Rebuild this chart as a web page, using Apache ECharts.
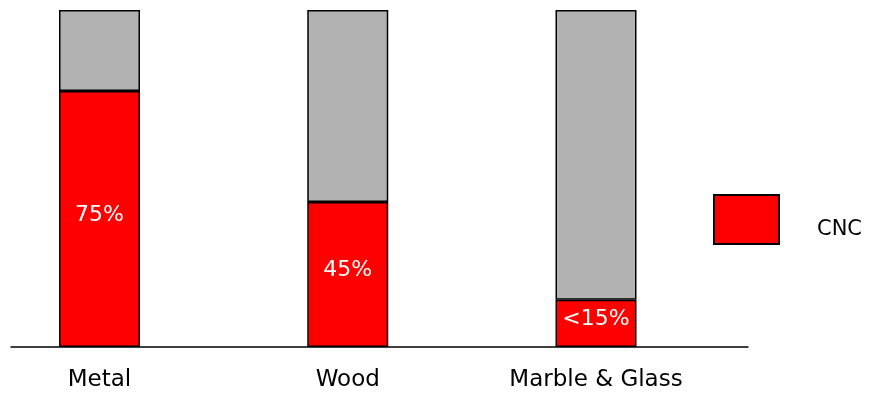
<!DOCTYPE html>
<html>
<head>
<meta charset="utf-8">
<script src="https://cdn.jsdelivr.net/npm/echarts@6/dist/echarts.min.js"></script>
<style>
  html, body { margin: 0; padding: 0; background: #fff; }
  #chart { width: 873px; height: 393px; }
</style>
</head>
<body>
<div id="chart"></div>
<script>
// values
const categories = ["Metal", "Wood", "Marble & Glass"];
const cncShare = [76, 43, 14];
const restShare = [24, 57, 86];
const cncLabels = ["75%", "45%", "<15%"];

const chart = echarts.init(document.getElementById("chart"));

const font = "DejaVu Sans";

chart.setOption({
  animation: false,
  legend: {
    data: ["CNC"],
    left: 713,
    top: 194,
    padding: 0,
    itemWidth: 65,
    itemHeight: 49,
    icon: "rect",
    formatter: "{t|{name}}",
    textStyle: {
      rich: {
        t: {
          fontFamily: font,
          fontSize: 21,
          color: "#000",
          padding: [20, 0, 0, 33]
        }
      }
    }
  },
  grid: [
    // bars
    { left: 99.5, right: 277, top: 10, bottom: 46 },
    // long base line
    { left: 11, right: 125, top: 10, bottom: 46 }
  ],
  xAxis: [
    {
      type: "category",
      gridIndex: 0,
      data: categories,
      boundaryGap: false,
      axisLine: { show: false },
      axisTick: { show: false },
      axisLabel: {
        fontFamily: font,
        fontSize: 23,
        color: "#000",
        margin: 22
      }
    },
    {
      type: "value",
      gridIndex: 1,
      min: 0,
      max: 1,
      axisLine: { show: true, onZero: false, lineStyle: { color: "#000", width: 1.5 } },
      axisTick: { show: false },
      axisLabel: { show: false },
      splitLine: { show: false }
    }
  ],
  yAxis: [
    { type: "value", gridIndex: 0, min: 0, max: 100, show: false },
    { type: "value", gridIndex: 1, min: 0, max: 1, show: false }
  ],
  series: [
    {
      name: "CNC",
      type: "bar",
      stack: "all",
      xAxisIndex: 0,
      yAxisIndex: 0,
      barWidth: 81,
      data: cncShare,
      itemStyle: { color: "#ff0000", borderColor: "#000", borderWidth: 1.5 },
      label: {
        show: true,
        position: "inside",
        offset: [0, -4],
        fontFamily: font,
        fontSize: 22,
        color: "#fff",
        formatter: function (p) { return cncLabels[p.dataIndex]; }
      }
    },
    {
      name: "Other",
      type: "bar",
      stack: "all",
      xAxisIndex: 0,
      yAxisIndex: 0,
      barWidth: 81,
      data: restShare,
      itemStyle: { color: "#b2b2b2", borderColor: "#000", borderWidth: 1.5 }
    }
  ]
});
</script>
</body>
</html>
